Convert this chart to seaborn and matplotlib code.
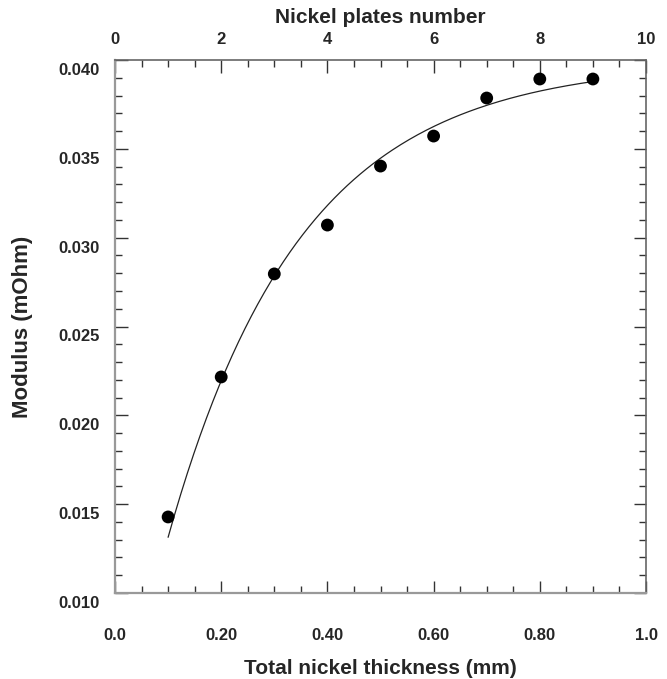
import matplotlib
matplotlib.use("Agg")
import matplotlib.pyplot as plt
import matplotlib.transforms as mtransforms
from matplotlib.ticker import MultipleLocator, FixedLocator
import seaborn as sns
import pandas as pd
import numpy as np

sns.set_style("white")
plt.rcParams['font.family'] = ['Liberation Sans', 'DejaVu Sans']

thickness_mm = [0.1, 0.2, 0.3, 0.4, 0.5, 0.6, 0.7, 0.8, 0.9]
modulus_mohm = [0.01428, 0.02216, 0.02796, 0.03071, 0.03403, 0.03572, 0.03786, 0.03893, 0.03893]
x_ticks = [0.0, 0.2, 0.4, 0.6, 0.8, 1.0]
x_tick_labels = ["0.0", "0.20", "0.40", "0.60", "0.80", "1.0"]
y_ticks = [0.010, 0.015, 0.020, 0.025, 0.030, 0.035, 0.040]
y_tick_labels = ["0.010", "0.015", "0.020", "0.025", "0.030", "0.035", "0.040"]
top_ticks = [0, 2, 4, 6, 8, 10]
top_tick_labels = ["0", "2", "4", "6", "8", "10"]

df = pd.DataFrame({"thickness": thickness_mm, "modulus": modulus_mohm})

# least-squares fit of y = a * (1 - exp(-c x)) to the data
xd = np.asarray(thickness_mm)
yd = np.asarray(modulus_mohm)
best = None
for c in np.linspace(0.5, 15, 2901):
    basis = 1 - np.exp(-c * xd)
    a = np.dot(basis, yd) / np.dot(basis, basis)
    err = np.sum((a * basis - yd) ** 2)
    if best is None or err < best[0]:
        best = (err, c, a)
_, c_fit, a_fit = best
xf = np.linspace(xd.min(), xd.max(), 200)
fit_df = pd.DataFrame({"thickness": xf, "modulus": a_fit * (1 - np.exp(-c_fit * xf))})

fig = plt.figure(figsize=(6.67, 6.79), dpi=100)
ax = fig.add_axes([115/667, 1-593/679, (646-115)/667, (593-60)/679])

sns.lineplot(data=fit_df, x="thickness", y="modulus", ax=ax, color="#222222", lw=0.9)
sns.scatterplot(data=df, x="thickness", y="modulus", ax=ax, s=85, color="black",
                edgecolor="none", zorder=3)

ax.set_xlim(0, 1.0)
ax.set_ylim(0.010, 0.040)
ax.xaxis.set_major_locator(FixedLocator(x_ticks))
ax.set_xticklabels(x_tick_labels)
ax.xaxis.set_minor_locator(MultipleLocator(0.05))
ax.yaxis.set_major_locator(FixedLocator(y_ticks))
ax.set_yticklabels(y_tick_labels)
ax.yaxis.set_minor_locator(MultipleLocator(0.001))

ax.tick_params(which="both", direction="in", right=True, top=False, bottom=True, left=True,
               color="#333333", width=1.0)
ax.tick_params(which="major", length=9)
ax.tick_params(which="minor", length=5)
ax.tick_params(axis="x", which="major", pad=25, labelsize=12)
ax.tick_params(axis="y", which="major", pad=11, labelsize=12)

for lab in ax.get_yticklabels():
    lab.set_fontweight("bold")
    lab.set_transform(lab.get_transform() + mtransforms.ScaledTranslation(0, -9/100, fig.dpi_scale_trans))
for lab in ax.get_xticklabels():
    lab.set_fontweight("bold")

for side in ["left", "bottom"]:
    ax.spines[side].set_color("#999999")
    ax.spines[side].set_linewidth(1.6)
for side in ["top", "right"]:
    ax.spines[side].set_color("#666666")
    ax.spines[side].set_linewidth(1.2)

ax.set_xlabel("Total nickel thickness (mm)", fontsize=15, fontweight="bold", labelpad=12)
ax.set_ylabel("Modulus (mOhm)", fontsize=16, fontweight="bold", labelpad=18)

sec = ax.secondary_xaxis("top", functions=(lambda x: x * 10, lambda x: x / 10))
sec.xaxis.set_major_locator(FixedLocator(top_ticks))
sec.set_xticklabels(top_tick_labels)
sec.xaxis.set_minor_locator(MultipleLocator(0.5))
sec.tick_params(which="both", direction="in", color="#333333", width=1.0, labelsize=12, pad=9.5)
sec.tick_params(which="major", length=9)
sec.tick_params(which="minor", length=5)
for lab in sec.get_xticklabels():
    lab.set_fontweight("bold")
sec.spines["top"].set_visible(False)
sec.set_xlabel("Nickel plates number", fontsize=15, fontweight="bold", labelpad=6)

fig.savefig("out.png", dpi=100)
